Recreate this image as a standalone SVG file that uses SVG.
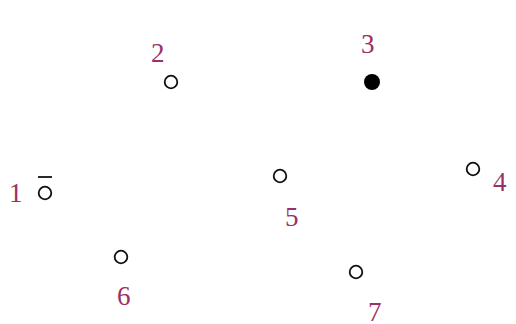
<svg xmlns="http://www.w3.org/2000/svg" width="516" height="324" viewBox="0 0 516 324">
<style>
.lbl{font-family:"Liberation Serif","Times New Roman",serif;font-size:27px;fill:#9a3068}
.o{fill:none;stroke:#111;stroke-width:1.8}
.f{fill:#000}
</style>
<rect width="516" height="324" fill="#fff"/>
<g id="connectors"></g>
<g id="n1"><circle class="o" cx="45" cy="193" r="6.3"/><line x1="38" y1="177" x2="52" y2="177" stroke="#111" stroke-width="1.8"/><text class="lbl" x="9" y="202">1</text></g>
<g id="n2"><circle class="o" cx="171" cy="82" r="6.3"/><text class="lbl" x="151" y="62">2</text></g>
<g id="n3"><circle class="f" cx="372" cy="82" r="8"/><text class="lbl" x="361" y="53">3</text></g>
<g id="n4"><circle class="o" cx="473" cy="169" r="6.3"/><text class="lbl" x="493" y="191">4</text></g>
<g id="n5"><circle class="o" cx="280" cy="176" r="6.3"/><text class="lbl" x="285" y="226">5</text></g>
<g id="n6"><circle class="o" cx="121" cy="257" r="6.3"/><text class="lbl" x="117" y="305">6</text></g>
<g id="n7"><circle class="o" cx="356" cy="272" r="6.3"/><text class="lbl" x="368" y="321">7</text></g>
</svg>
